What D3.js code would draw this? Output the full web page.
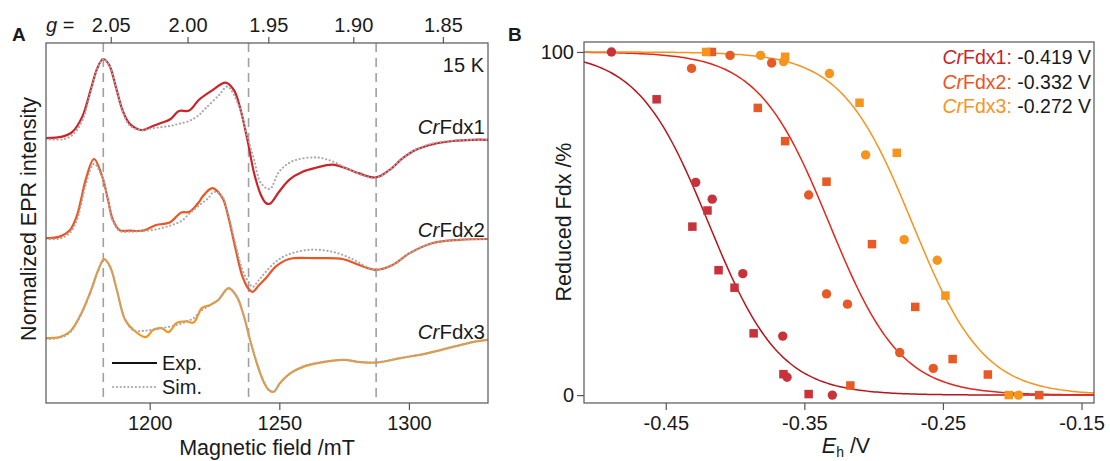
<!DOCTYPE html>
<html><head><meta charset="utf-8">
<script src="https://cdn.jsdelivr.net/npm/d3@7"></script>
<style>
body{margin:0;background:#fff}
text{font-family:"Liberation Sans",Arial,sans-serif;fill:#1a1a1a}
</style>
</head><body>
<svg id="c" width="1110" height="461"></svg>
<script>
// ---------------- DATA ----------------
// Panel A: EPR spectra, [field mT, intensity relative to own baseline]
const fdx1Exp = [[1160,0],[1166.3,0.02],[1170.2,0.08],[1174,0.27],[1177.2,0.6],[1179.8,0.875],[1182,0.99],[1184.3,0.92],[1186.9,0.645],[1189.5,0.35],[1192,0.19],[1194.6,0.125],[1197.2,0.1],[1201,0.15],[1204.9,0.195],[1208.1,0.24],[1211.3,0.34],[1215.2,0.345],[1219,0.48],[1224.2,0.6],[1229.3,0.695],[1232.5,0.6],[1235.1,0.35],[1237.7,-0.02],[1240.3,-0.44],[1242.9,-0.71],[1244.8,-0.81],[1246.3,-0.82],[1249.9,-0.67],[1253.8,-0.52],[1259,-0.42],[1264.1,-0.37],[1270.5,-0.33],[1275.7,-0.375],[1280.8,-0.44],[1287.3,-0.49],[1292.4,-0.4],[1297.6,-0.25],[1302.7,-0.145],[1309.2,-0.075],[1316.9,-0.035],[1324.6,-0.02],[1330.5,-0.02]];
const fdx1Sim = [[1160,-0.01],[1166.3,-0.015],[1170.2,0.04],[1174,0.22],[1177.2,0.57],[1179.8,0.865],[1182,0.99],[1184.3,0.92],[1186.9,0.64],[1189.5,0.34],[1192,0.17],[1194.6,0.115],[1197.2,0.1],[1201,0.125],[1204.9,0.14],[1208.1,0.155],[1211.3,0.18],[1215.2,0.215],[1219,0.29],[1221.6,0.375],[1226.8,0.54],[1230,0.645],[1234.5,0.395],[1237.7,0.02],[1240.3,-0.27],[1242.9,-0.56],[1246.3,-0.635],[1249.9,-0.42],[1254.9,-0.29],[1264.1,-0.24],[1270.5,-0.29],[1276.9,-0.39],[1283.4,-0.48],[1287.3,-0.5],[1292.4,-0.4],[1297.6,-0.245],[1302.7,-0.14],[1309.2,-0.065],[1316.9,-0.03],[1324.6,-0.02],[1330.5,-0.02]];
const fdx2Exp = [[1160,0],[1165.3,0.02],[1169.2,0.1],[1171.8,0.27],[1173.5,0.48],[1175.3,0.73],[1178.5,0.99],[1181.7,0.77],[1183.9,0.48],[1185.8,0.23],[1188.4,0.1],[1192.2,0.095],[1197.4,0.095],[1202.5,0.165],[1207.7,0.195],[1212.2,0.32],[1215.4,0.33],[1219.2,0.46],[1220.4,0.52],[1224.2,0.625],[1228.1,0.5],[1230,0.31],[1233.2,-0.145],[1235.8,-0.48],[1238.4,-0.645],[1239.7,-0.67],[1242.2,-0.585],[1244.8,-0.5],[1248.6,-0.355],[1253.8,-0.26],[1264.1,-0.25],[1274.4,-0.26],[1280.8,-0.335],[1287.3,-0.395],[1293.7,-0.335],[1300.1,-0.19],[1309.2,-0.06],[1319.4,-0.02],[1330.5,-0.01]];
const fdx2Sim = [[1160,-0.01],[1165.3,-0.005],[1169.2,0.065],[1171.8,0.215],[1173.5,0.415],[1175.3,0.665],[1178.5,0.93],[1181.7,0.765],[1183.9,0.48],[1185.8,0.215],[1188.4,0.09],[1192.2,0.08],[1197.4,0.09],[1202.5,0.11],[1207.7,0.155],[1212.2,0.215],[1215.4,0.31],[1219.2,0.415],[1222.6,0.5],[1224.8,0.58],[1228.1,0.515],[1230,0.33],[1233.2,-0.085],[1235.8,-0.4],[1238.4,-0.56],[1239.7,-0.61],[1242.2,-0.52],[1244.8,-0.42],[1248.6,-0.295],[1253,-0.21],[1261.6,-0.145],[1270.5,-0.17],[1278.2,-0.26],[1284.6,-0.375],[1287.3,-0.395],[1293.7,-0.335],[1300.1,-0.19],[1309.2,-0.06],[1319.4,-0.02],[1330.5,-0.01]];
const fdx3Exp = [[1160,0],[1165.3,0.015],[1169.2,0.08],[1173,0.27],[1176.9,0.56],[1180.2,0.855],[1182.4,0.99],[1184.7,0.895],[1187.3,0.605],[1190.5,0.23],[1193.7,0.105],[1198.5,0.0125],[1201.4,0.105],[1204.6,0.125],[1207.2,0.075],[1210.4,0.19],[1214.3,0.21],[1216.9,0.195],[1220.1,0.375],[1223.3,0.415],[1226.5,0.48],[1230.4,0.625],[1233.6,0.52],[1236.2,0.29],[1238.7,-0.02],[1241.3,-0.31],[1243.9,-0.54],[1245.9,-0.645],[1247.8,-0.67],[1250.3,-0.56],[1254.2,-0.44],[1259.4,-0.355],[1265.8,-0.305],[1274.8,-0.27],[1281.2,-0.3],[1287.6,-0.305],[1296.6,-0.25],[1306.9,-0.19],[1317.3,-0.105],[1325,-0.045],[1330.5,-0.02]];
const fdx3Sim = [[1160,-0.01],[1165.3,0.005],[1169.2,0.07],[1173,0.26],[1176.9,0.55],[1180.2,0.85],[1182.4,0.98],[1184.7,0.89],[1187.3,0.6],[1190.5,0.24],[1193.7,0.1],[1198.5,0.095],[1204.6,0.125],[1210.4,0.165],[1214.3,0.21],[1216.9,0.25],[1220.1,0.35],[1223.3,0.41],[1226.5,0.48],[1230.4,0.62],[1233.6,0.52],[1236.2,0.29],[1238.7,-0.02],[1241.3,-0.31],[1243.9,-0.54],[1245.9,-0.645],[1247.8,-0.67],[1250.3,-0.56],[1254.2,-0.44],[1259.4,-0.35],[1265.8,-0.3],[1274.8,-0.27],[1281.2,-0.295],[1287.6,-0.3],[1296.6,-0.25],[1306.9,-0.19],[1317.3,-0.105],[1325,-0.045],[1330.5,-0.02]];
const spectraNames = ["CrFdx1","CrFdx2","CrFdx3"];
const spectraOffsets = [3.31, 2.06, 0.81];
const fieldTicks = [1200, 1250, 1300];
const gTicks = [2.05, 2.00, 1.95, 1.90, 1.85];
const gMarkers = [2.055, 1.962, 1.887];
const mwFreqGHz = 34.0;
const temperatureLabel = "15 K";

// Panel B: redox titration, [Eh V, reduced %]
const fdx1Circles = [[-0.4892,100],[-0.4284,62],[-0.4165,57.1],[-0.3944,35.4],[-0.3656,17.2],[-0.3625,5.2],[-0.3298,0]];
const fdx1Squares = [[-0.4566,86.2],[-0.4199,53.8],[-0.4308,49.1],[-0.4119,36.4],[-0.4004,31.3],[-0.3866,18],[-0.3651,6.1],[-0.3469,0.3]];
const fdx2Circles = [[-0.4314,95.2],[-0.4036,99],[-0.3736,96.8],[-0.3469,58.3],[-0.334,29.5],[-0.3189,26.5],[-0.2812,12.4],[-0.257,7.8]];
const fdx2Squares = [[-0.4167,100],[-0.3836,83.7],[-0.3639,74],[-0.334,62.2],[-0.3012,44],[-0.27,25.7],[-0.243,10.5],[-0.2176,6],[-0.3168,2.8],[-0.1806,0]];
const fdx3Circles = [[-0.3816,99],[-0.365,97.2],[-0.3319,93.7],[-0.3058,70],[-0.278,45.3],[-0.2541,39.3],[-0.1955,0]];
const fdx3Squares = [[-0.4209,100],[-0.3639,98.6],[-0.3102,85.2],[-0.2833,70.6],[-0.2482,29],[-0.2025,0]];
const midpointPotentials = [-0.419, -0.332, -0.272];
const ehTicks = [-0.45, -0.35, -0.25, -0.15];
const pctTicks = [0, 100];

// ---------------- STYLE ----------------
const expColors = ["#cc2229", "#ee5322", "#f7941d"];
const ptColors = ["#c8333b", "#e85a25", "#f7941d"];
const fitColors = ["#b8141c", "#e2261c", "#f7931e"];
const FS = 20;      // tick labels
const FT = 21.5;    // axis titles
const FL = 20.5;    // in-plot labels

const svg = d3.select("#c");

// ================= PANEL A =================
const A = {l:46, r:488, t:43, b:403};
const xA = d3.scaleLinear().domain([1160, 1330.5]).range([A.l, A.r]);
const yA = d3.scaleLinear().domain([0, 4.5]).range([A.b, A.t]);
const gToField = g => 71.4477 * mwFreqGHz / g;

svg.append("clipPath").attr("id","clipA").append("rect")
  .attr("x",A.l).attr("y",A.t).attr("width",A.r-A.l).attr("height",A.b-A.t);

// dashed markers
svg.append("g").selectAll("line").data(gMarkers).join("line")
  .attr("x1", d=>xA(gToField(d))).attr("x2", d=>xA(gToField(d)))
  .attr("y1", A.t).attr("y2", A.b)
  .attr("stroke","#a0a0a0").attr("stroke-width",1.6).attr("stroke-dasharray","9,6");

const lineA = off => d3.line().x(d=>xA(d[0])).y(d=>yA(d[1]+off)).curve(d3.curveCatmullRom.alpha(0.5));
const exps = [fdx1Exp, fdx2Exp, fdx3Exp];
const sims = [fdx1Sim, fdx2Sim, fdx3Sim];
const gA = svg.append("g").attr("clip-path","url(#clipA)");
exps.forEach((s,i)=>{
  gA.append("path").attr("d", lineA(spectraOffsets[i])(s))
    .attr("fill","none").attr("stroke",expColors[i]).attr("stroke-width",2.2);
});
const dotStyle = sel => sel.attr("stroke","#a9a9a9").attr("stroke-width",2.1)
    .attr("stroke-dasharray","0.2,3.6").attr("stroke-linecap","round").attr("fill","none");
sims.forEach((s,i)=>{
  gA.append("path").attr("d", lineA(spectraOffsets[i])(s)).call(dotStyle);
});

// frame
svg.append("rect").attr("x",A.l).attr("y",A.t).attr("width",A.r-A.l).attr("height",A.b-A.t)
  .attr("fill","none").attr("stroke","#555").attr("stroke-width",1.2);

// bottom axis
const axB = svg.append("g").attr("transform",`translate(0,${A.b})`)
  .call(d3.axisBottom(xA).tickValues(fieldTicks).tickSize(7).tickPadding(6).tickFormat(d3.format("d")));
axB.select(".domain").remove();
axB.selectAll("line").attr("stroke","#555").attr("stroke-width",1.2);
axB.selectAll("text").attr("font-size",FS).attr("fill","#1a1a1a");

// top g axis
const axT = svg.append("g").attr("transform",`translate(0,${A.t})`)
  .call(d3.axisTop(d3.scaleLinear().domain(xA.domain()).range(xA.range()))
    .tickValues(gTicks.map(gToField)).tickSize(6).tickPadding(5)
    .tickFormat((d,i)=>gTicks[i].toFixed(2)));
axT.select(".domain").remove();
axT.selectAll("line").attr("stroke","#555").attr("stroke-width",1.2);
axT.selectAll("text").attr("font-size",FS).attr("fill","#1a1a1a");

const gEq = svg.append("text").attr("x",46).attr("y",32).attr("font-size",FS);
gEq.append("tspan").attr("font-style","italic").text("g");
gEq.append("tspan").text(" =");

// labels
svg.append("text").attr("x",A.r-4).attr("y",72).attr("text-anchor","end").attr("font-size",FS).text(temperatureLabel);
const nameY = [134, 237, 339];
spectraNames.forEach((n,i)=>{
  const t = svg.append("text").attr("x",A.r-3).attr("y",nameY[i]).attr("text-anchor","end").attr("font-size",FL);
  t.append("tspan").attr("font-style","italic").text(n.slice(0,2));
  t.append("tspan").text(n.slice(2));
});

// legend A
svg.append("line").attr("x1",112).attr("x2",157).attr("y1",363).attr("y2",363).attr("stroke","#111").attr("stroke-width",2.2);
svg.append("line").attr("x1",113).attr("x2",157).attr("y1",387).attr("y2",387).call(dotStyle);
svg.append("text").attr("x",162).attr("y",370).attr("font-size",FS).text("Exp.");
svg.append("text").attr("x",162).attr("y",394).attr("font-size",FS).text("Sim.");

svg.append("text").attr("x",(A.l+A.r)/2).attr("y",455).attr("text-anchor","middle").attr("font-size",FT).text("Magnetic field /mT");
svg.append("text").attr("transform",`translate(36,219) rotate(-90)`).attr("text-anchor","middle").attr("font-size",FT).text("Normalized EPR intensity");
svg.append("text").attr("x",12).attr("y",41).attr("font-size",19).attr("font-weight","bold").text("A");

// ================= PANEL B =================
const B = {l:584, r:1094, t:42, b:403};
const xB = d3.scaleLinear().domain([-0.509, -0.141]).range([B.l, B.r]);
const yB = d3.scaleLinear().domain([-2.3, 102.9]).range([B.b, B.t]);

svg.append("clipPath").attr("id","clipB").append("rect")
  .attr("x",B.l).attr("y",B.t).attr("width",B.r-B.l).attr("height",B.b-B.t);

// Nernst fits (n = 1) from the midpoint potentials
const RTF = 0.0257;
const eGrid = d3.range(0, 201).map(i => xB.domain()[0] + i*(xB.domain()[1]-xB.domain()[0])/200);
const gB = svg.append("g").attr("clip-path","url(#clipB)");
midpointPotentials.forEach((e0,i)=>{
  const pts = eGrid.map(e => [e, 100/(1+Math.exp((e-e0)/RTF))]);
  gB.append("path").attr("d", d3.line().x(d=>xB(d[0])).y(d=>yB(d[1]))(pts))
    .attr("fill","none").attr("stroke",fitColors[i]).attr("stroke-width",1.5);
});

const circ = [fdx1Circles, fdx2Circles, fdx3Circles];
const sq = [fdx1Squares, fdx2Squares, fdx3Squares];
const SQ = 8.5;
sq.forEach((s,i)=>{
  svg.append("g").selectAll("rect").data(s).join("rect")
    .attr("x",d=>xB(d[0])-SQ/2).attr("y",d=>yB(d[1])-SQ/2).attr("width",SQ).attr("height",SQ)
    .attr("fill",ptColors[i]);
});
circ.forEach((s,i)=>{
  svg.append("g").selectAll("circle").data(s).join("circle")
    .attr("cx",d=>xB(d[0])).attr("cy",d=>yB(d[1])).attr("r",4.7)
    .attr("fill",ptColors[i]);
});

svg.append("rect").attr("x",B.l).attr("y",B.t).attr("width",B.r-B.l).attr("height",B.b-B.t)
  .attr("fill","none").attr("stroke","#555").attr("stroke-width",1.2);

const axBx = svg.append("g").attr("transform",`translate(0,${B.b})`)
  .call(d3.axisBottom(xB).tickValues(ehTicks).tickSize(7).tickPadding(6).tickFormat(d=>d.toFixed(2)));
axBx.select(".domain").remove();
axBx.selectAll("line").attr("stroke","#555").attr("stroke-width",1.2);
axBx.selectAll("text").attr("font-size",FS).attr("fill","#1a1a1a");

const axBy = svg.append("g").attr("transform",`translate(${B.l},0)`)
  .call(d3.axisLeft(yB).tickValues(pctTicks).tickSize(7).tickPadding(3).tickFormat(d3.format("d")));
axBy.select(".domain").remove();
axBy.selectAll("line").attr("stroke","#555").attr("stroke-width",1.2);
axBy.selectAll("text").attr("font-size",FS).attr("fill","#1a1a1a");

// legend B
const legY = [64, 89, 113];
midpointPotentials.forEach((e0,i)=>{
  const t = svg.append("text").attr("x",B.r-3).attr("y",legY[i]).attr("text-anchor","end").attr("font-size",19.5);
  t.append("tspan").attr("font-style","italic").style("fill",expColors[i]).text(spectraNames[i].slice(0,2));
  t.append("tspan").style("fill",expColors[i]).text(spectraNames[i].slice(2)+":");
  t.append("tspan").text(" " + e0.toFixed(3) + " V");
});

const xl = svg.append("text").attr("x",846).attr("y",453).attr("text-anchor","middle").attr("font-size",FT);
xl.append("tspan").attr("font-style","italic").text("E");
xl.append("tspan").attr("font-size",14).attr("dy",4).text("h");
xl.append("tspan").attr("dy",-4).text(" /V");
svg.append("text").attr("transform",`translate(571,222) rotate(-90)`).attr("text-anchor","middle").attr("font-size",FT).text("Reduced Fdx /%");
svg.append("text").attr("x",508).attr("y",41).attr("font-size",19).attr("font-weight","bold").text("B");
</script>
</body></html>
